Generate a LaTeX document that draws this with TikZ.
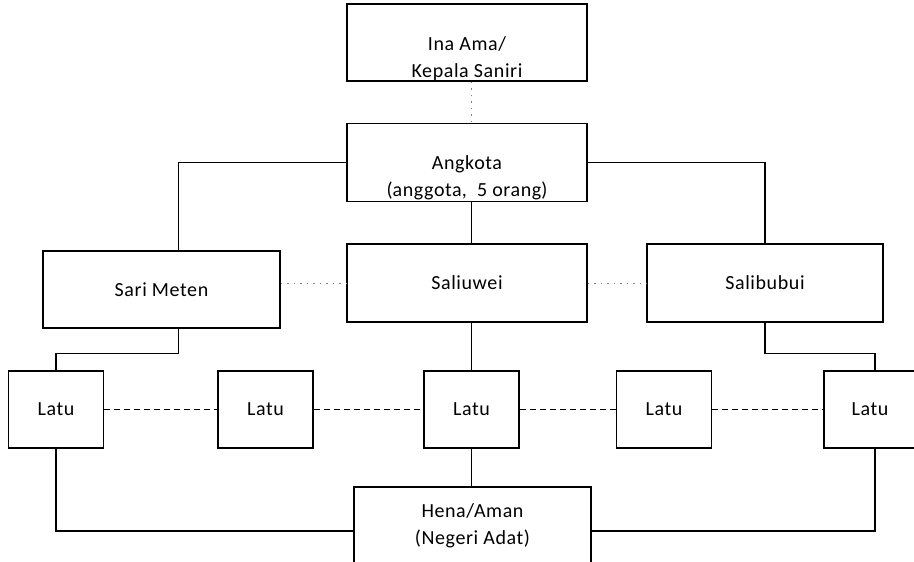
\documentclass[tikz,border=0pt]{standalone}
\usepackage{fontspec}
\setmainfont{Carlito}[LetterSpace=3]
\usetikzlibrary{positioning, calc}
\tikzset{
  orgbox/.style={draw, rectangle, align=center, inner xsep=3pt, inner ysep=0pt,
    minimum height=77pt, font=\fontsize{20}{27}\selectfont},
  peer/.style={dash pattern=on 6pt off 4pt},
  faint/.style={gray, line width=1pt, dash pattern=on 1.5pt off 5pt},
}

\begin{document}
\begin{tikzpicture}[x=1pt, y=-1pt, line width=1.2pt]
  \clip (0,0) rectangle (914,562);
  % top of the structure
  \node[orgbox, minimum width=240pt] (ina) at (467,42.5) {\strut\\Ina Ama/\\Kepala Saniri};
  \node[orgbox, minimum width=240pt] (angkota) at (467,162.5) {\strut\\Angkota\\(\underline{anggota},\ \ 5 \underline{orang})};
  % three soa
  \node[orgbox, minimum width=237pt] (sari) at (161.5,289.5) {Sari Meten};
  \node[orgbox, minimum width=240pt, minimum height=78pt] (saliuwei) at (467,283) {Saliuwei};
  \node[orgbox, minimum width=236pt, minimum height=78pt] (salibubui) at (765,283) {Salibubui};
  % latu row
  \foreach \i/\x in {1/56,2/265.5,3/471.5,4/664}
    \node[orgbox, minimum width=95pt] (latu\i) at (\x,409.5) {Latu};
  \node[orgbox, minimum width=92pt] (latu5) at (870,409.5) {Latu};
  \node[orgbox, minimum width=237pt] (hena) at (472.5,525.5) {Hena/Aman\\(Negeri Adat)};

  % connectors
  \draw[faint] (ina.south -| latu3) -- (angkota.north -| latu3);
  \draw (angkota.south -| latu3) -- (saliuwei.north -| latu3);
  \draw (angkota.west) -| ([xshift=17pt]sari.north);
  \draw (angkota.east) -| (salibubui.north);
  \draw[faint] (sari.east |- saliuwei.west) -- (saliuwei.west);
  \draw[faint] (saliuwei.east) -- (salibubui.west);
  \draw ([xshift=17pt]sari.south) -- ++(0,25) -| (latu1.north);
  \draw (salibubui.south) -- ++(0,31) -| ([xshift=5pt]latu5.north);
  \draw (saliuwei.south -| latu3) -- (latu3.north);
  \foreach \a/\b in {1/2,2/3,3/4,4/5}
    \draw[peer] (latu\a.east) -- (latu\b.west);
  \draw (latu3.south) -- (latu3.south |- hena.north);
  \draw (latu1.south) |- ([yshift=-5.5pt]hena.west);
  \draw ([xshift=5pt]latu5.south) |- ([yshift=-5.5pt]hena.east);
\end{tikzpicture}
\end{document}
